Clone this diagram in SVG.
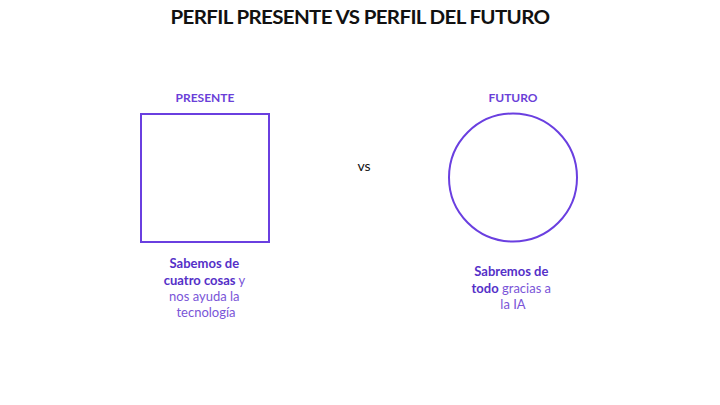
<svg xmlns="http://www.w3.org/2000/svg" width="720" height="405" viewBox="0 0 720 405">
<style>
.title{font-family:Lato,"Open Sans",sans-serif;font-weight:700;font-size:19px;fill:#111;letter-spacing:-0.6px}
.head{font-family:Lato,"Open Sans",sans-serif;font-weight:700;font-size:12px;fill:#6a3fd8}
.body{font-family:Lato,"Open Sans",sans-serif;font-size:13px;fill:#7a55d8}
.b{font-weight:700;fill:#5530c8}
.shape{fill:none;stroke:#6a3fe0;stroke-width:2}
.vs{font-family:Lato,"Open Sans",sans-serif;font-size:14px;fill:#111}
</style>
<rect width="720" height="405" fill="#fff"/>
<text class="title" x="360" y="24" text-anchor="middle" textLength="379" lengthAdjust="spacingAndGlyphs">PERFIL PRESENTE VS PERFIL DEL FUTURO</text>
<g id="presente">
<text class="head" x="205" y="102" text-anchor="middle">PRESENTE</text>
<rect class="shape" x="141" y="114" width="128" height="128"/>
<text class="body" text-anchor="middle">
<tspan x="206" y="268" class="b">Sabemos de</tspan>
<tspan x="206" y="285"><tspan class="b">cuatro cosas</tspan> y</tspan>
<tspan x="206" y="301">nos ayuda la</tspan>
<tspan x="206" y="317">tecnología</tspan>
</text>
</g>
<g id="vs">
<text class="vs" x="364" y="171" text-anchor="middle">vs</text>
</g>
<g id="futuro">
<text class="head" x="513" y="102" text-anchor="middle">FUTURO</text>
<circle class="shape" cx="513" cy="177.5" r="64"/>
<text class="body" text-anchor="middle">
<tspan x="513" y="276" class="b">Sabremos de</tspan>
<tspan x="513" y="293"><tspan class="b">todo</tspan> gracias a</tspan>
<tspan x="513" y="309">la IA</tspan>
</text>
</g>
<g id="connectors"></g>
</svg>
